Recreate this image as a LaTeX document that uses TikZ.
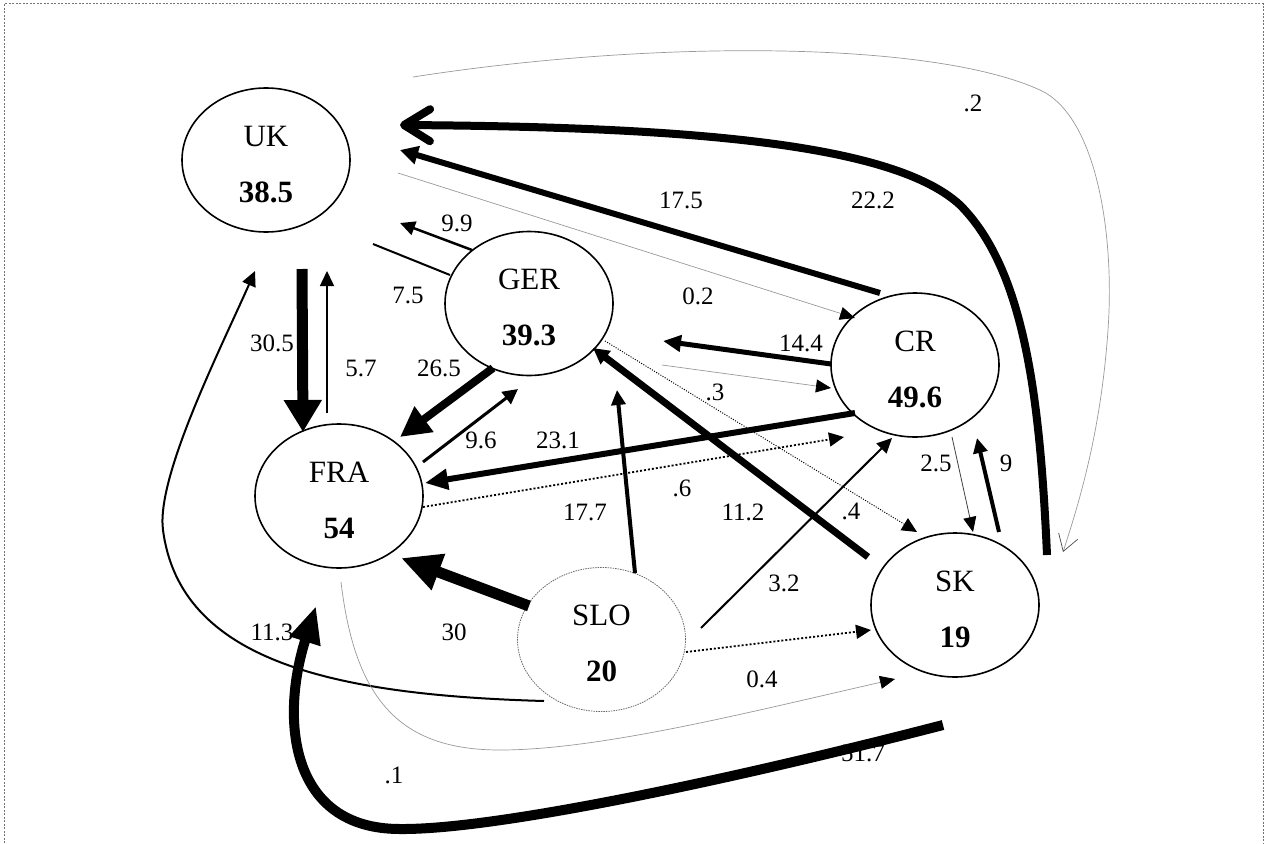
\documentclass[tikz,border=0pt]{standalone}
\usepackage{fontspec}
\setmainfont{Liberation Serif}
\usetikzlibrary{shapes.geometric,arrows.meta}
\tikzset{
  country/.style={ellipse,draw,line width=1.6pt,minimum width=168pt,minimum height=144pt,inner sep=0pt,align=center,font=\fontsize{31}{56}\selectfont},
  lab/.style={font=\fontsize{25}{30}\selectfont,inner sep=0pt},
  tipsmall/.style={-{Triangle[length=15pt,width=14pt]}},
  tipgray/.style={-{Triangle[length=15pt,width=13pt,color=black]}},
  grayflow/.style={draw=black!40,line width=0.7pt},
  dotflow/.style={line width=1.8pt,dash pattern=on 2pt off 2pt},
  frameline/.style={draw=black!55,line width=1pt,dash pattern=on 2pt off 1.5pt}
}
\begin{document}
\begin{tikzpicture}[x=1pt,y=-1pt]
\useasboundingbox (0,0) rectangle (1268,843);
\coordinate (fbl) at (4,843); \coordinate (ftl) at (4,4);
\coordinate (ftr) at (1263,4); \coordinate (fbr) at (1263,843);
\draw[frameline] (fbl) -- (ftl) -- (ftr) -- (fbr);

% countries
\node[country] (UK) at (266,160) {\rule{0pt}{29pt}UK\\\textbf{38.5}};
\node[country] (GER) at (529,303.5) {\rule{0pt}{29pt}GER\\\textbf{39.3}};
\node[country] (CR) at (915,365) {\rule{0pt}{29pt}CR\\\textbf{49.6}};
\node[country] (FRA) at (339,496) {\rule{0pt}{29pt}FRA\\\textbf{54}};
\node[country,draw=black!60,line width=0.8pt,dash pattern=on 1.5pt off 1pt] (SLO) at (601.5,639.5) {\rule{0pt}{29pt}SLO\\\textbf{20}};
\node[country] (SK) at (955,605) {\rule{0pt}{29pt}SK\\\textbf{19}};

% labels
\node[lab] (l02b) at (973,103) {.2};
\node[lab] (l175) at (681,200) {17.5};
\node[lab] (l222) at (873,200) {22.2};
\node[lab] (l99) at (457,223) {9.9};
\node[lab] (l75) at (408,295) {7.5};
\node[lab] (l02) at (698,296) {0.2};
\node[lab] (l305) at (272,343) {30.5};
\node[lab] (l57) at (361,368) {5.7};
\node[lab] (l265) at (439,368) {26.5};
\node[lab] (l144) at (801,343) {14.4};
\node[lab] (l03) at (715,392) {.3};
\node[lab] (l96) at (481,440) {9.6};
\node[lab] (l231) at (558,440) {23.1};
\node[lab] (l25) at (936,463) {2.5};
\node[lab] (l9) at (1006,463) {9};
\node[lab] (l06) at (682,488) {.6};
\node[lab] (l177) at (585,512) {17.7};
\node[lab] (l112) at (743,512) {11.2};
\node[lab] (l04b) at (851,511) {.4};
\node[lab] (l32) at (784,583) {3.2};
\node[lab] (l113) at (272,632) {11.3};
\node[lab] (l30) at (454,632) {30};
\node[lab] (l04) at (762,679) {0.4};
\node[lab] (l517) at (863,753) {51.7};
\node[lab] (l01) at (394,775) {.1};

% connector end points
\coordinate (s222) at (1047,555); \coordinate (e222) at (400,125);
\coordinate (s175) at (880,293);  \coordinate (e175) at (400,150);
\coordinate (s02) at (398,173);   \coordinate (e02) at (855,318);
\coordinate (s02b) at (413,77);   \coordinate (e02b) at (1063,552);
\coordinate (s99) at (472,250);   \coordinate (e99) at (400,223);
\coordinate (s75) at (450,275);   \coordinate (e75) at (373,244);
\coordinate (s305) at (302,269);  \coordinate (e305) at (303,432);
\coordinate (s57) at (327,413);   \coordinate (e57) at (327,271);
\coordinate (s113) at (544,701);  \coordinate (e113) at (255,271);
\coordinate (s265) at (493,368);  \coordinate (e265) at (400,437);
\coordinate (s96) at (423,462);   \coordinate (e96) at (518,389);
\coordinate (s231) at (855,413);  \coordinate (e231) at (425,483);
\coordinate (s06) at (423,507);   \coordinate (e06) at (844,437);
\coordinate (s177) at (635,573);  \coordinate (e177) at (617,390);
\coordinate (s112) at (868,557);  \coordinate (e112) at (593,348);
\coordinate (s03) at (605,341);   \coordinate (e03) at (917,532);
\coordinate (s144) at (831,364);  \coordinate (e144) at (663,341);
\coordinate (sg) at (662,365);    \coordinate (eg) at (831,388);
\coordinate (s32) at (701,628);   \coordinate (e32) at (892,438);
\coordinate (s25) at (952,437);   \coordinate (e25) at (973,532);
\coordinate (s9) at (999,532);    \coordinate (e9) at (977,438);
\coordinate (s30) at (529,606);   \coordinate (e30) at (401,558);
\coordinate (s517) at (943,725);  \coordinate (e517) at (316,606);
\coordinate (s04) at (341,582);   \coordinate (e04) at (895,679);
\coordinate (s04b) at (686,652);  \coordinate (e04b) at (871,630);

% connectors
\draw[line width=8pt,-{Straight Barb[length=26pt,width=32pt,round]}] (s222) .. controls (1040,400) and (1025,270) .. (960,205) .. controls (895,145) and (700,127) .. (e222);
\draw[line width=6pt,-{Triangle[length=18pt,width=18pt]}] (s175) -- (e175);
\draw[grayflow,tipgray] (s02) -- (e02);
\draw[grayflow,-{Straight Barb[length=16pt,width=20pt,color=black!70]}] (s02b) .. controls (650,40) and (930,40) .. (1040,90) .. controls (1095,115) and (1115,230) .. (1108,330) .. controls (1101,430) and (1080,500) .. (e02b);
\draw[line width=2.5pt,tipsmall] (s99) -- (e99);
\draw[line width=2pt] (s75) -- (e75);
\draw[line width=11pt,-{Triangle[length=32pt,width=36pt]}] (s305) -- (e305);
\draw[line width=1.5pt,tipsmall] (s57) -- (e57);
\draw[line width=2pt,tipsmall] (s113) .. controls (330,695) and (180,660) .. (163,530) .. controls (156,477) and (220,350) .. (e113);
\draw[line width=8pt,-{Triangle[length=30pt,width=30pt]}] (s265) -- (e265);
\draw[line width=3pt,-{Triangle[length=15pt,width=15pt]}] (s96) -- (e96);
\draw[line width=6pt,-{Triangle[length=23pt,width=20pt]}] (s231) -- (e231);
\draw[dotflow,tipsmall] (s06) -- (e06);
\draw[line width=4pt,tipsmall] (s177) -- (e177);
\draw[line width=7pt,-{Triangle[length=16pt,width=16pt]}] (s112) -- (e112);
\draw[line width=1pt,dash pattern=on 1pt off 1.5pt,tipsmall] (s03) -- (e03);
\draw[line width=5pt,-{Triangle[length=18pt,width=16pt]}] (s144) -- (e144);
\draw[grayflow,tipgray] (sg) -- (eg);
\draw[line width=2pt,tipsmall] (s32) -- (e32);
\draw[line width=0.8pt,draw=black!75,tipgray] (s25) -- (e25);
\draw[line width=4pt,tipsmall] (s9) -- (e9);
\draw[line width=11pt,-{Triangle[length=40pt,width=36pt]}] (s30) -- (e30);
\draw[line width=10pt,-{Triangle[length=37pt,width=30pt]}] (s517) .. controls (750,775) and (500,830) .. (400,829) .. controls (290,829) and (280,720) .. (e517);
\draw[grayflow,tipgray] (s04) .. controls (355,700) and (400,750) .. (500,750) .. controls (600,750) and (750,712) .. (e04);
\draw[dotflow,tipsmall] (s04b) -- (e04b);
\end{tikzpicture}
\end{document}
